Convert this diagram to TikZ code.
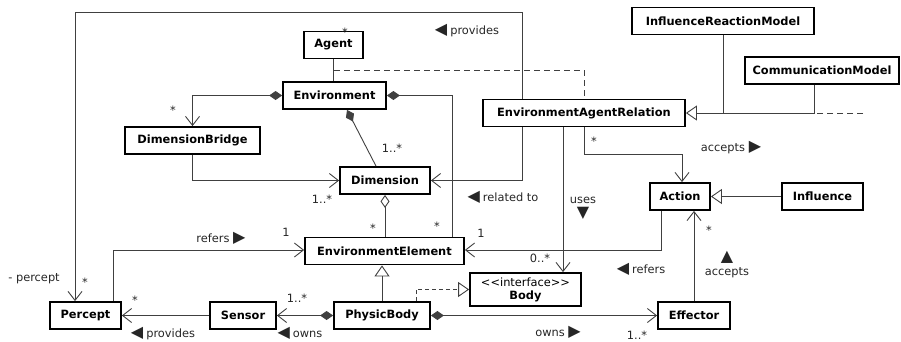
\documentclass[tikz,border=0pt]{standalone}
\usepackage{fontspec}
\setmainfont{DejaVu Sans}[Ligatures=TeXOff]
\usepackage{tikz}
\usetikzlibrary{arrows.meta, positioning, calc}
\tikzstyle{cls} = [rectangle, minimum height=27pt, inner sep=0pt, text centered, draw=black, line width=1.8pt, fill=white, font=\bfseries]
\tikzstyle{link} = [draw=black!75, line width=0.9pt]
\tikzstyle{assoc} = [link, -{Straight Barb[length=9pt, width=14pt]}]
\tikzstyle{comp} = [link, {Diamond[length=13pt, width=9pt]}-]
\tikzstyle{compassoc} = [link, {Diamond[length=13pt, width=9pt]}-{Straight Barb[length=9pt, width=14pt]}]
\tikzstyle{aggr} = [link, {Diamond[open, fill=white, length=13pt, width=9pt]}-]
\tikzstyle{inherit} = [link, -{Triangle[open, fill=white, length=11pt, width=15pt]}]
\tikzstyle{dashline} = [link, dash pattern=on 6pt off 4pt]
\tikzstyle{realize} = [inherit, dash pattern=on 4pt off 3pt]
\tikzstyle{lbl} = [text=black!85, inner sep=0pt]
\newcommand{\dirmark}[1]{\smash{\fontsize{16pt}{16pt}\selectfont #1}}

\begin{document}
\fontsize{11.4pt}{14pt}\selectfont
\begin{tikzpicture}[x=1pt, y=-1pt]
    \useasboundingbox (0,0) rectangle (901,341);

    % Nodes - classes at their places
    \node (agent) [cls, minimum width=59pt] at (333.5,45) {Agent};
    \node (env) [cls, minimum width=103pt] at (334.5,95.5) {Environment};
    \node (bridge) [cls, minimum width=135pt] at (192.5,140.5) {DimensionBridge};
    \node (irm) [cls, minimum width=182pt] at (723,21) {InfluenceReactionModel};
    \node (cm) [cls, minimum width=154pt] at (822,70.5) {CommunicationModel};
    \node (ear) [cls, minimum width=202pt] at (584,113) {EnvironmentAgentRelation};
    \node (dim) [cls, minimum width=90pt] at (385,180.5) {Dimension};
    \node (ee) [cls, minimum width=159pt] at (384.5,251) {EnvironmentElement};
    \node (percept) [cls, minimum width=71pt] at (85.5,315.5) {Percept};
    \node (sensor) [cls, minimum width=66pt] at (243,315.5) {Sensor};
    \node (pbody) [cls, minimum width=96pt] at (382,315.5) {PhysicBody};
    \node (body) [cls, minimum width=111pt, minimum height=33pt, align=center, font=\mdseries] at (525.5,289.5) {<<interface>>\\[-1pt]\textbf{Body}};
    \node (action) [cls, minimum width=60pt] at (680,196.5) {Action};
    \node (influence) [cls, minimum width=81pt] at (822.5,196.5) {Influence};
    \node (effector) [cls, minimum width=72pt] at (694,315.5) {Effector};

    % Arrows
    \draw [link] (agent.south) -- (agent.south |- env.north);
    \coordinate (assocpt) at ($(agent.south)!0.5!(env.north)$);
    \draw [dashline] (assocpt) -| (ear.north);
    \draw [assoc] ([xshift=-62pt]ear.north) -- ++(0,-86) -| ([xshift=-10.5pt]percept.north);
    \draw [compassoc] (env.west) -| (bridge.north);
    \draw [comp] (env.east) -| ([xshift=67.5pt]ee.north);
    \draw [comp] ([xshift=12.5pt]env.south) -- ([xshift=-9pt]dim.north);
    \draw [assoc] (bridge.south) |- (dim.west);
    \draw [assoc] ([xshift=-62pt]ear.south) |- (dim.east);
    \draw [aggr] (dim.south) -- (dim.south |- ee.north);
    \draw [assoc] ([xshift=27.5pt]percept.north) |- ([yshift=1pt]ee.west);
    \draw [assoc] ([xshift=-19pt]action.south) |- ([yshift=1pt]ee.east);
    \draw [assoc] ([xshift=-21pt]ear.south) -- ([xshift=-21pt]ear.south |- body.north);
    \draw [assoc] (ear.south) -- ++(0,27) -| ([xshift=2pt]action.north);
    \draw [inherit] (influence) -- (action);
    \draw [inherit] (irm.south) |- (ear.east);
    \draw [link] ([xshift=-8pt]cm.south) |- (irm.south |- ear.east);
    \coordinate (cmdash) at (863,113);
    \draw [dashline] (cmdash) -- ++(-68,0);
    \draw [assoc] (effector.north) -- (effector.north |- action.south);
    \draw [compassoc] (pbody.east) -- (effector.west);
    \draw [compassoc] (pbody.west) -- (sensor.east);
    \draw [assoc] (sensor) -- (percept);
    \draw [inherit] (pbody.north) -- (pbody.north |- ee.south);
    \draw [realize] ([xshift=34pt]pbody.north) |- (body.west);

    % Labels
    \node (mAgent) [lbl] at (345,32) {*};
    \node (lProvTop) [lbl] at (467,31) {\dirmark{◀}\hspace{3pt}provides};
    \node (mBridge) [lbl] at (173,110) {*};
    \node (mDimTop) [lbl] at (392,148) {1..*};
    \node (mDimLeft) [lbl] at (322,199) {1..*};
    \node (mEeDim) [lbl] at (373,228) {*};
    \node (mEeEnv) [lbl] at (437,226) {*};
    \node (lRelated) [lbl] at (503,197) {\dirmark{◀}\hspace{3pt}related to};
    \node (mEeAct) [lbl] at (481,233) {1};
    \node (mBody) [lbl] at (540,258) {0..*};
    \node (lUses) [lbl, align=center] at (583,207) {uses\\\dirmark{▼}};
    \node (mEarAct) [lbl] at (594,141) {*};
    \node (lAccTop) [lbl] at (731,149) {accepts \dirmark{▶}};
    \node (lRefers) [lbl] at (641,269) {\dirmark{◀}\hspace{3pt}refers};
    \node (mActEff) [lbl] at (709,230) {*};
    \node (lAccEff) [lbl, align=center] at (727,270) {\dirmark{▲}\\accepts};
    \node (lOwnsR) [lbl] at (558,333) {owns \dirmark{▶}};
    \node (mEff) [lbl] at (637,335) {1..*};
    \node (mSensor) [lbl] at (297,298) {1..*};
    \node (lOwnsL) [lbl] at (300,334.5) {\dirmark{◀}\hspace{3pt}owns};
    \node (mPercR) [lbl] at (135,300) {*};
    \node (lProvBot) [lbl] at (163,334) {\dirmark{◀}\hspace{3pt}provides};
    \node (lRefersEe) [lbl] at (221,238) {refers \dirmark{▶}};
    \node (mEePerc) [lbl] at (286,232) {1};
    \node (lPercept) [lbl] at (34,279) {- percept};
    \node (mPercTop) [lbl] at (85,282) {*};
\end{tikzpicture}
\end{document}
